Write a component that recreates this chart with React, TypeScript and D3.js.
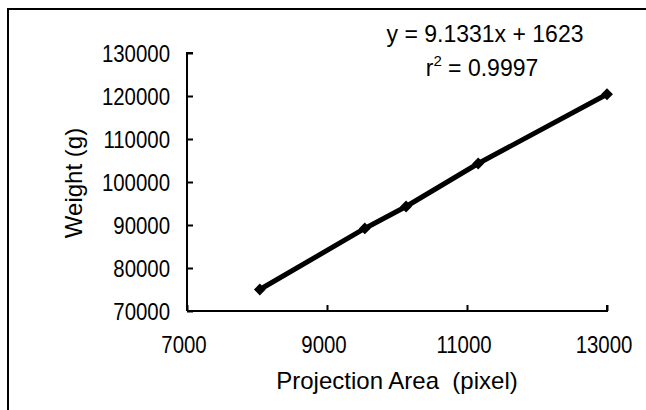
import React, { useEffect, useRef } from 'react';
import * as d3 from 'd3';

// projection area (pixel) vs weight (g)
const areaValues = [8040, 9540, 10130, 11160, 13000];
const weightValues = [75000, 89200, 94300, 104300, 120400];
const xTicks = [7000, 9000, 11000, 13000];
const yTicks = [70000, 80000, 90000, 100000, 110000, 120000, 130000];
const equationText = 'y = 9.1331x + 1623';
const rSquaredText = '= 0.9997';

export default function App() {
    const ref = useRef<SVGSVGElement | null>(null);
    const width = 646;
    const height = 410;
    const margin = { top: 53, right: 39, bottom: 99, left: 187 };
    const font = '"Liberation Sans", Arial, sans-serif';

    useEffect(() => {
        const svg = d3.select(ref.current);
        svg.selectAll('*').remove();

        const xScale = d3.scaleLinear()
            .domain([7000, 13000])
            .range([margin.left, width - margin.right]);
        const yScale = d3.scaleLinear()
            .domain([70000, 130000])
            .range([height - margin.bottom, margin.top]);

        // outer frame (only top and left edges show in the picture)
        svg.append('path')
            .attr('d', 'M8,' + height + ' L8,9 L' + width + ',9')
            .attr('fill', 'none')
            .attr('stroke', '#000')
            .attr('stroke-width', 2);

        // axes, ticks point inward
        const xAxis = d3.axisTop(xScale)
            .tickValues(xTicks)
            .tickSize(6)
            .tickFormat(() => '');
        const yAxis = d3.axisRight(yScale)
            .tickValues(yTicks)
            .tickSize(6)
            .tickFormat(() => '');
        const gx = svg.append('g')
            .attr('transform', 'translate(0,' + yScale(70000) + ')')
            .call(xAxis);
        const gy = svg.append('g')
            .attr('transform', 'translate(' + xScale(7000) + ',0)')
            .call(yAxis);
        [gx, gy].forEach(g => {
            g.select('.domain').attr('stroke', '#000').attr('stroke-width', 2);
            g.selectAll('.tick line').attr('stroke', '#000').attr('stroke-width', 2);
        });
        gx.select('.domain').attr('d', 'M' + xScale(7000) + ',0H' + xScale(13000) + 'V-6');
        gy.select('.domain').attr('d', 'M6,' + yScale(130000) + 'H0V' + yScale(70000));

        // tick labels, condensed digits
        svg.append('g')
            .selectAll('text')
            .data(yTicks)
            .enter().append('text')
            .attr('transform', d => 'translate(' + (xScale(7000) - 17) + ',' + yScale(d) + ') scale(0.85,1)')
            .attr('dy', '0.36em')
            .attr('text-anchor', 'end')
            .attr('font-family', font)
            .attr('font-size', 24)
            .text(d => d);
        svg.append('g')
            .selectAll('text')
            .data(xTicks)
            .enter().append('text')
            .attr('transform', d => 'translate(' + (xScale(d) - 3) + ',353) scale(0.85,1)')
            .attr('text-anchor', 'middle')
            .attr('font-family', font)
            .attr('font-size', 24)
            .text(d => d);

        // axis titles
        svg.append('text')
            .attr('x', 397)
            .attr('y', 389)
            .attr('text-anchor', 'middle')
            .attr('font-family', font)
            .attr('font-size', 24)
            .attr('xml:space', 'preserve')
            .text('Projection Area  (pixel)');
        svg.append('text')
            .attr('transform', 'translate(82,183) rotate(-90)')
            .attr('text-anchor', 'middle')
            .attr('font-family', font)
            .attr('font-size', 24)
            .text('Weight (g)');

        // series line with markers
        const points = areaValues.map((a, i) => [a, weightValues[i]] as [number, number]);
        const line = d3.line<[number, number]>()
            .x(d => xScale(d[0]))
            .y(d => yScale(d[1]));
        svg.append('path')
            .datum(points)
            .attr('d', line)
            .attr('fill', 'none')
            .attr('stroke', '#000')
            .attr('stroke-width', 5);
        svg.append('g')
            .selectAll('path')
            .data(points)
            .enter().append('path')
            .attr('transform', d => 'translate(' + xScale(d[0]) + ',' + yScale(d[1]) + ') rotate(45)')
            .attr('d', d3.symbol().type(d3.symbolSquare).size(70))
            .attr('fill', '#000');

        // regression label
        svg.append('text')
            .attr('x', 485)
            .attr('y', 42)
            .attr('text-anchor', 'middle')
            .attr('font-family', font)
            .attr('font-size', 23)
            .text(equationText);
        const r2 = svg.append('text')
            .attr('x', 482)
            .attr('y', 76)
            .attr('text-anchor', 'middle')
            .attr('font-family', font)
            .attr('font-size', 23);
        r2.append('tspan').text('r');
        r2.append('tspan').attr('dy', -10).attr('font-size', 15).text('2');
        r2.append('tspan').attr('dy', 10).text(' ' + rSquaredText);
    }, []);

    return (
        <div style={{ position: 'absolute', left: 0, top: 0 }}>
            <svg ref={ref} width={width} height={height} style={{ display: 'block', background: '#fff' }} />
        </div>
    );
}
